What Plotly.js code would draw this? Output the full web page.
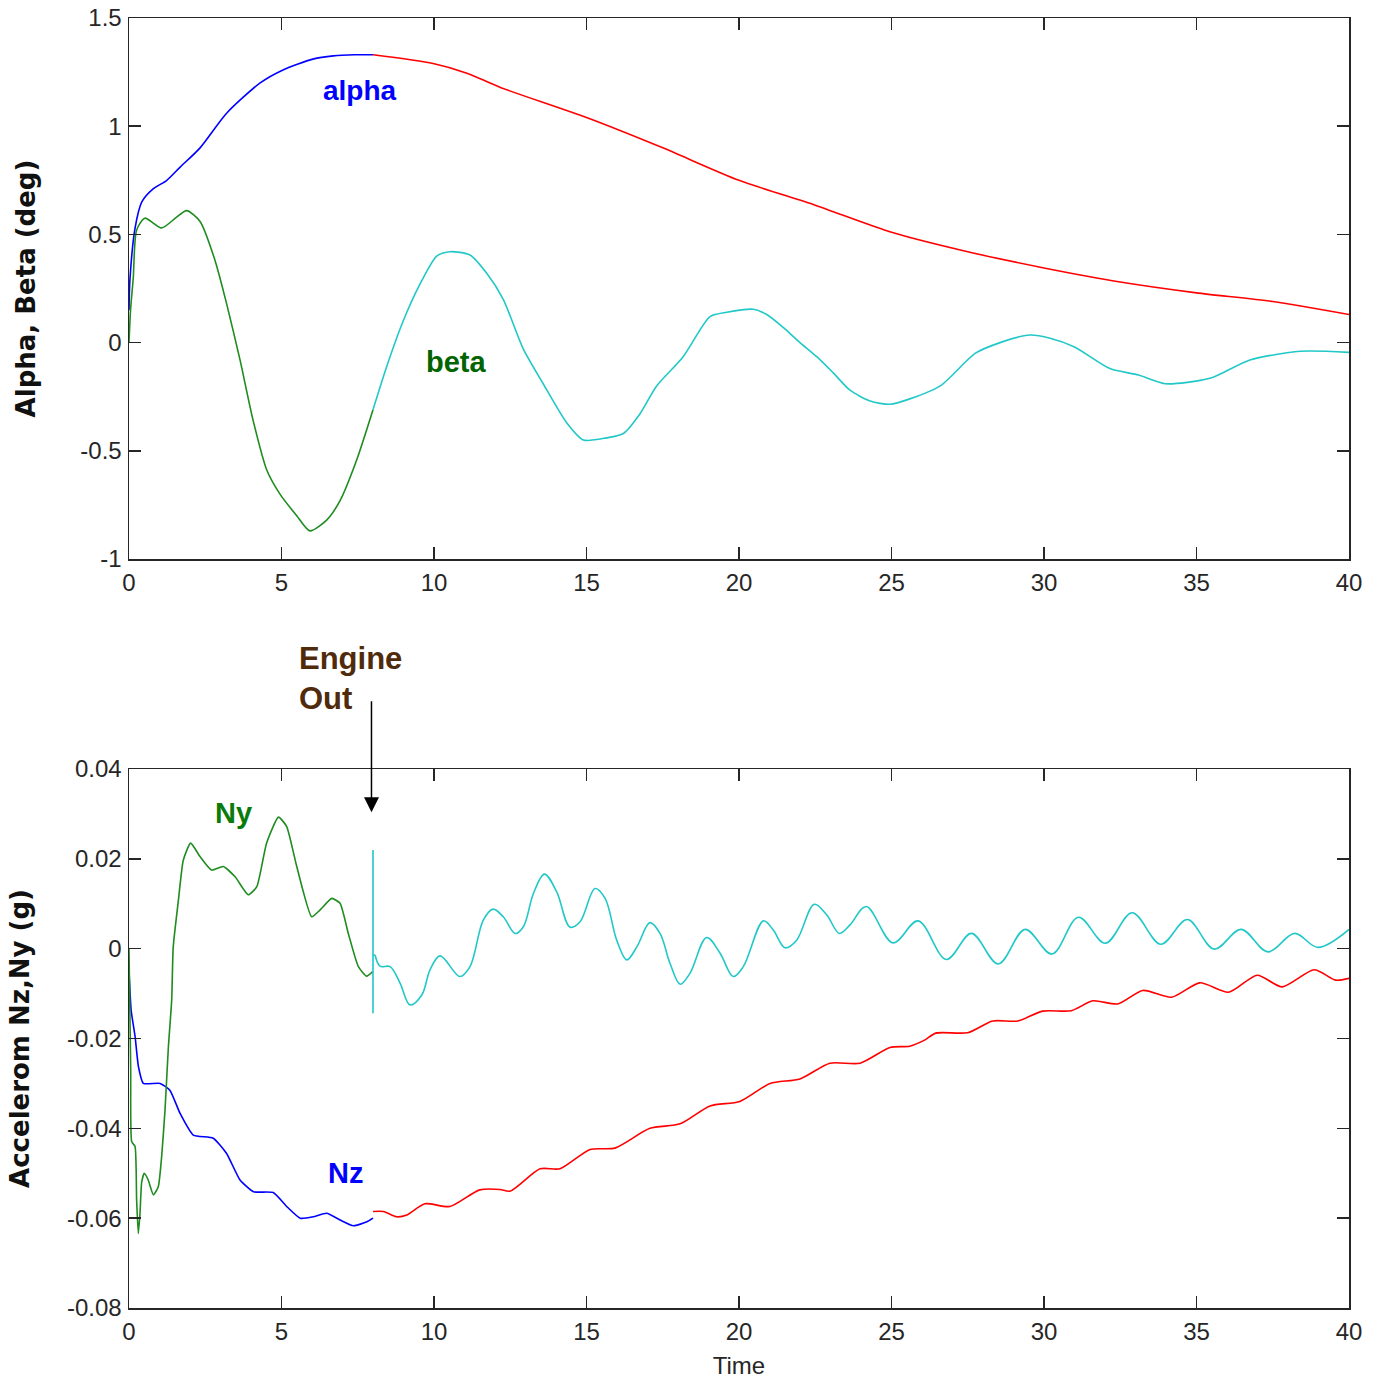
<!DOCTYPE html>
<html>
<head>
<meta charset="utf-8">
<script src="https://cdn.plot.ly/plotly-3.0.1.min.js"></script>
<style>html,body{margin:0;padding:0;background:#fff;}#chart{width:1379px;height:1382px;}</style>
</head>
<body>
<div id="chart"></div>
<script>
// ---------- Top panel: Alpha, Beta (deg) ----------
const alphaPreT = [0, 0.03, 0.2, 0.42, 0.79, 1.24, 1.67, 2.33, 3.2, 4.3, 5.05, 6.03, 6.7, 7.4, 8.0];
const alphaPreV = [0.15, 0.29, 0.53, 0.65, 0.71, 0.75, 0.81, 0.90, 1.06, 1.20, 1.26, 1.31, 1.325, 1.33, 1.33];
const alphaPostT = [8.0, 9.97, 11.08, 12.16, 15, 17.5, 20, 22.5, 25, 27.5, 30, 32.5, 35, 37.5, 40];
const alphaPostV = [1.33, 1.29, 1.245, 1.18, 1.04, 0.90, 0.75, 0.635, 0.51, 0.42, 0.345, 0.28, 0.23, 0.19, 0.13];

const betaPreT = [0, 0.05, 0.14, 0.25, 0.52, 1.07, 1.56, 1.89, 2.33, 2.82, 3.2, 3.64, 4.07, 4.52, 4.95, 5.5, 5.93, 6.48, 6.92, 7.47, 8.0];
const betaPreV = [0, 0.15, 0.30, 0.52, 0.575, 0.53, 0.58, 0.61, 0.56, 0.38, 0.18, -0.08, -0.36, -0.59, -0.70, -0.80, -0.87, -0.82, -0.73, -0.54, -0.31];
const betaPostT = [8.0, 8.45, 8.99, 9.54, 10.09, 10.52, 11.18, 11.73, 12.27, 12.93, 13.58, 14.35, 14.9, 15.66, 16.21, 16.75, 17.3, 18.17, 19.05, 19.6, 20.47, 20.91, 21.45, 22.0, 22.55, 23.09, 23.64, 24.3, 24.95, 25.6, 26.6, 27.74, 28.56, 29.54, 30.2, 31.0, 32.16, 33.1, 33.97, 35.44, 36.75, 38.39, 40];
const betaPostV = [-0.31, -0.11, 0.10, 0.27, 0.40, 0.42, 0.405, 0.32, 0.20, -0.03, -0.19, -0.37, -0.45, -0.44, -0.42, -0.33, -0.20, -0.065, 0.12, 0.14, 0.154, 0.13, 0.07, 0.0, -0.065, -0.14, -0.22, -0.27, -0.285, -0.26, -0.2, -0.05, 0.0, 0.035, 0.02, -0.02, -0.12, -0.15, -0.19, -0.165, -0.08, -0.04, -0.045];

// ---------- Bottom panel: Accelerom Nz, Ny (g) ----------
const nzPreT = [0, 0.07, 0.20, 0.31, 0.47, 1.02, 1.34, 1.67, 2.11, 2.76, 3.2, 3.64, 4.08, 4.73, 5.17, 5.61, 6.04, 6.48, 6.92, 7.36, 7.8, 8.0];
const nzPreV = [-0.005, -0.0137, -0.0196, -0.0263, -0.030, -0.030, -0.0315, -0.0366, -0.0415, -0.0422, -0.0456, -0.0515, -0.0541, -0.0543, -0.0574, -0.060, -0.0597, -0.0589, -0.0604, -0.0617, -0.0608, -0.060];
const nzPostT = [8.0, 8.34, 8.78, 9.11, 9.7, 10.52, 11.5, 12.16, 12.49, 13.48, 14.13, 15.12, 15.93, 17.08, 18.07, 19.05, 20.03, 21.02, 22.0, 22.98, 23.97, 24.95, 25.6, 26.1, 26.45, 27.5, 28.32, 29.14, 29.96, 30.9, 31.6, 32.42, 33.24, 34.18, 35.11, 36.05, 36.99, 37.81, 38.86, 39.56, 40];
const nzPostV = [-0.0585, -0.0585, -0.0597, -0.0593, -0.0568, -0.0574, -0.0537, -0.0536, -0.054, -0.049, -0.049, -0.0447, -0.0444, -0.040, -0.039, -0.035, -0.034, -0.030, -0.029, -0.0255, -0.0255, -0.022, -0.0217, -0.0203, -0.0188, -0.0187, -0.0161, -0.0161, -0.0139, -0.0138, -0.0116, -0.0123, -0.0093, -0.0108, -0.0076, -0.0097, -0.0059, -0.0085, -0.0047, -0.007, -0.0066];

const nyPreT = [0, 0.056, 0.089, 0.197, 0.25, 0.305, 0.36, 0.416, 0.50, 0.63, 0.80, 0.96, 1.07, 1.18, 1.29, 1.40, 1.45, 1.62, 1.78, 2.02, 2.33, 2.71, 3.09, 3.48, 3.91, 4.19, 4.51, 4.90, 5.17, 5.50, 5.99, 6.26, 6.65, 6.92, 7.19, 7.52, 7.79, 7.99];
const nyPreV = [0, -0.027, -0.043, -0.044, -0.056, -0.0634, -0.059, -0.052, -0.050, -0.0515, -0.0548, -0.053, -0.0463, -0.036, -0.022, -0.0114, 0.0004, 0.0108, 0.0197, 0.0235, 0.0205, 0.0175, 0.0183, 0.016, 0.012, 0.0138, 0.0235, 0.0293, 0.0272, 0.0183, 0.0071, 0.0086, 0.0112, 0.0101, 0.0034, -0.004, -0.0061, -0.0051];
const nySpikeT = [8.0, 8.0, 8.0, 8.07];
const nySpikeV = [0.022, -0.0144, -0.0014, -0.0014];
const nyPostT = [8.07, 8.23, 8.56, 8.89, 9.21, 9.60, 9.87, 10.20, 10.85, 11.18, 11.62, 11.94, 12.27, 12.66, 12.93, 13.26, 13.62, 14.02, 14.46, 14.79, 15.28, 15.61, 15.99, 16.32, 16.65, 17.08, 17.41, 17.74, 18.07, 18.39, 18.94, 19.38, 19.81, 20.14, 20.80, 21.12, 21.51, 21.89, 22.47, 22.88, 23.29, 23.64, 24.17, 25.05, 25.87, 26.80, 27.62, 28.50, 29.38, 30.26, 31.13, 32.01, 32.89, 33.83, 34.70, 35.58, 36.46, 37.34, 38.22, 38.98, 40];
const nyPostV = [-0.0014, -0.0039, -0.004, -0.0077, -0.0125, -0.0103, -0.0047, -0.0016, -0.0062, -0.004, 0.0064, 0.0088, 0.0071, 0.0034, 0.0049, 0.0123, 0.0166, 0.0127, 0.0048, 0.006, 0.0134, 0.0112, 0.0019, -0.0025, 0.0004, 0.0058, 0.0034, -0.0033, -0.0079, -0.0055, 0.0025, -0.001, -0.0062, -0.004, 0.0062, 0.0042, 0.0002, 0.0019, 0.0099, 0.0075, 0.0034, 0.0053, 0.0094, 0.0013, 0.0062, -0.0024, 0.0034, -0.0034, 0.0043, -0.0012, 0.007, 0.0012, 0.008, 0.001, 0.0065, -0.0001, 0.0043, -0.0007, 0.0034, 0.0003, 0.0043];

const xTicks = [0, 5, 10, 15, 20, 25, 30, 35, 40];
const yTopTicks = [-1, -0.5, 0, 0.5, 1, 1.5];
const yTopLabels = ['-1', '-0.5', '0', '0.5', '1', '1.5'];
const yBotTicks = [-0.08, -0.06, -0.04, -0.02, 0, 0.02, 0.04];
const yBotLabels = ['-0.08', '-0.06', '-0.04', '-0.02', '0', '0.02', '0.04'];

const BLUE = '#0000ff', RED = '#ff0000', GREEN = '#1f8c1f', CYAN = '#22c8c8';
const LW = 1.6;

function line(x, y, color, xa, ya, shape, smooth) {
  return {x: x, y: y, type: 'scatter', mode: 'lines', xaxis: xa, yaxis: ya,
    line: {color: color, width: LW, shape: shape || 'spline', smoothing: smooth === undefined ? 0.7 : smooth},
    hoverinfo: 'skip', showlegend: false};
}

const traces = [
  line(alphaPreT, alphaPreV, BLUE, 'x', 'y'),
  line(alphaPostT, alphaPostV, RED, 'x', 'y'),
  line(betaPreT, betaPreV, GREEN, 'x', 'y'),
  line(betaPostT, betaPostV, CYAN, 'x', 'y'),
  line(nzPreT, nzPreV, BLUE, 'x2', 'y2', 'spline', 0.5),
  line(nzPostT, nzPostV, RED, 'x2', 'y2'),
  line(nyPreT, nyPreV, GREEN, 'x2', 'y2', 'spline', 0.5),
  line(nySpikeT, nySpikeV, CYAN, 'x2', 'y2', 'linear'),
  line(nyPostT, nyPostV, CYAN, 'x2', 'y2', 'spline', 1)
];

const TICKFONT = {family: '"Liberation Sans", Arial, sans-serif', size: 24, color: '#262626'};
const AXCOL = '#262626';
function xaxis(anchor, extra) {
  return Object.assign({anchor: anchor, domain: [0, 1], range: [0, 40], tickvals: xTicks, ticktext: xTicks.map(String),
    ticks: 'inside', ticklen: 12, tickwidth: 1.5, tickcolor: AXCOL, mirror: 'ticks', showline: true, linecolor: AXCOL, linewidth: 1.5,
    showgrid: false, zeroline: false, tickfont: TICKFONT, ticklabelstandoff: 2, fixedrange: true}, extra || {});
}
function yaxis(anchor, domain, range, vals, labels, title, standoff) {
  return {anchor: anchor, domain: domain, range: range, tickvals: vals, ticktext: labels,
    ticks: 'inside', ticklen: 12, tickwidth: 1.5, tickcolor: AXCOL, mirror: 'ticks', showline: true, linecolor: AXCOL, linewidth: 1.5,
    showgrid: false, zeroline: false, tickfont: TICKFONT, ticklabelstandoff: 1, fixedrange: true,
    title: {text: title, font: {family: '"DejaVu Sans", sans-serif', size: 26, color: '#111', weight: 'bold'}, standoff: standoff}};
}

const ANNFONT = '"Liberation Sans", Arial, sans-serif';
const layout = {
  width: 1379, height: 1382,
  margin: {l: 129, r: 30, t: 18, b: 74},
  paper_bgcolor: '#ffffff', plot_bgcolor: '#ffffff',
  showlegend: false, hovermode: false,
  xaxis: xaxis('y'),
  yaxis: yaxis('x', [0.5806, 1], [-1, 1.5], yTopTicks, yTopLabels, 'Alpha, Beta (deg)', 37),
  xaxis2: xaxis('y2', {title: {text: 'Time', font: {family: TICKFONT.family, size: 24, color: '#262626'}, standoff: 13}}),
  yaxis2: yaxis('x2', [0, 0.4178], [-0.08, 0.04], yBotTicks, yBotLabels, 'Accelerom Nz,Ny (g)', 30),
  annotations: [
    {text: 'alpha', x: 7.57, y: 1.167, xref: 'x', yref: 'y', showarrow: false, font: {family: ANNFONT, size: 28, color: BLUE, weight: 'bold'}},
    {text: 'beta', x: 10.75, y: -0.09, xref: 'x', yref: 'y', showarrow: false, font: {family: ANNFONT, size: 29, color: '#006400', weight: 'bold'}},
    {text: 'Ny', x: 3.41, y: 0.0302, xref: 'x2', yref: 'y2', showarrow: false, font: {family: ANNFONT, size: 29, color: '#0a7a0a', weight: 'bold'}},
    {text: 'Nz', x: 7.11, y: -0.0499, xref: 'x2', yref: 'y2', showarrow: false, font: {family: ANNFONT, size: 29, color: BLUE, weight: 'bold'}},
    {text: 'Engine<br>Out', x: 5.51, y: 0.4876, xref: 'x2', yref: 'paper', xanchor: 'left', yanchor: 'middle', align: 'left', showarrow: false,
      font: {family: ANNFONT, size: 31, color: '#4f2b0c', weight: 'bold'}},
    {text: '', x: 7.95, y: 0.0304, xref: 'x2', yref: 'y2', ax: 7.95, ay: 0.0554, axref: 'x2', ayref: 'y2',
      showarrow: true, arrowhead: 2, arrowsize: 2, arrowwidth: 1.5, arrowcolor: '#000000', standoff: 0}
  ]
};

Plotly.newPlot('chart', traces, layout, {staticPlot: true, displayModeBar: false});
</script>
</body>
</html>
